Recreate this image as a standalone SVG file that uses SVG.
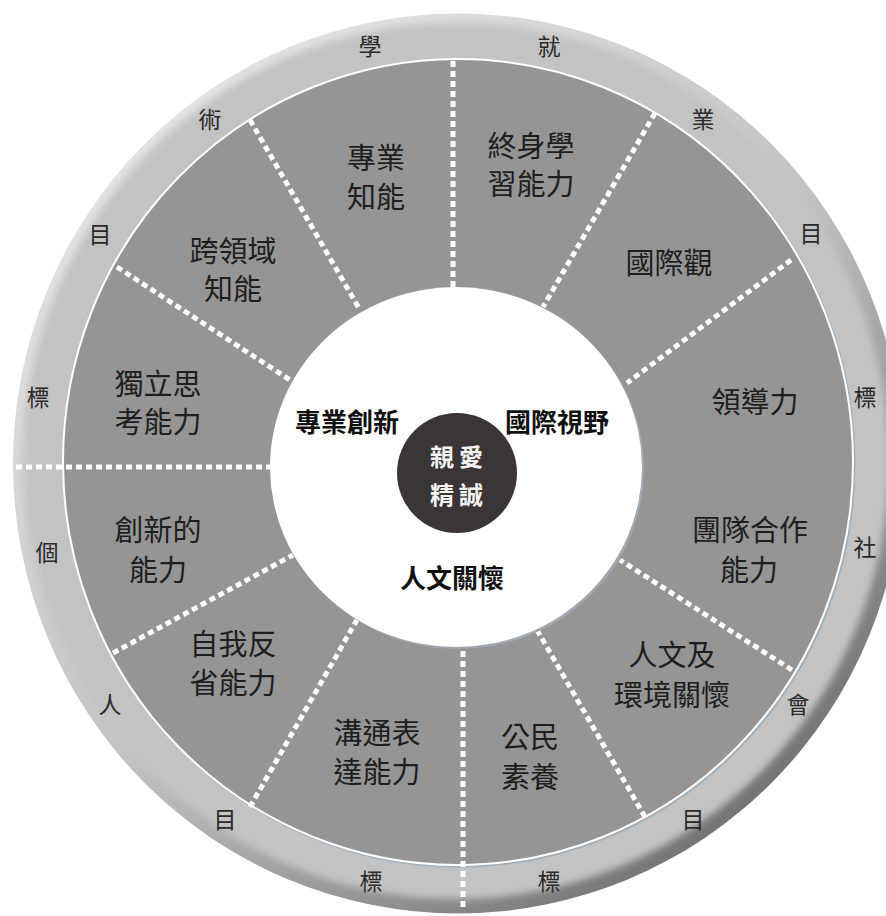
<svg xmlns="http://www.w3.org/2000/svg" width="886" height="916" viewBox="0 0 886 916">
<defs>
<linearGradient id="bevel" x1="0.15" y1="0.1" x2="0.85" y2="0.95">
<stop offset="0" stop-color="#e4e4e4"/>
<stop offset="0.5" stop-color="#c2c2c2"/>
<stop offset="1" stop-color="#6a6a6a"/>
</linearGradient>
<filter id="soft" x="-5%" y="-5%" width="110%" height="110%">
<feGaussianBlur stdDeviation="3.5"/>
</filter>
<style>
.lab{font-family:"Noto Sans CJK TC","Noto Sans CJK SC",sans-serif;font-size:29px;fill:#1e1e1e;text-anchor:middle}
.core{font-family:"Noto Sans CJK TC","Noto Sans CJK SC",sans-serif;font-size:26px;font-weight:bold;fill:#111;text-anchor:middle}
.ring{font-family:"Noto Sans CJK TC","Noto Sans CJK SC",sans-serif;font-size:23px;fill:#2a2a2a;text-anchor:middle}
.heart{font-family:"Noto Sans CJK TC","Noto Sans CJK SC",serif;font-size:24px;font-weight:bold;fill:#f4f4f4;text-anchor:middle;letter-spacing:5px}
.div{stroke:#ffffff;stroke-width:5;stroke-dasharray:6 4;fill:none}
</style>
</defs>
<rect width="886" height="916" fill="#ffffff"/>
<g id="outer-ring">
<ellipse cx="458" cy="463.5" rx="445" ry="450" fill="url(#bevel)"/>
<ellipse cx="456" cy="461" rx="433" ry="438" fill="#c3c3c3" filter="url(#soft)"/>
</g>
<g id="disc">
<ellipse cx="459.5" cy="463.5" rx="395" ry="403" fill="none" stroke="#9fb0bd" stroke-width="2"/>
<ellipse cx="458" cy="462" rx="395" ry="403" fill="#959595" stroke="#ffffff" stroke-width="2"/>
</g>
<g id="connectors">
<line class="div" x1="453" y1="61" x2="453" y2="287"/>
<line class="div" x1="250" y1="120" x2="360" y2="310"/>
<line class="div" x1="117" y1="267" x2="290" y2="380"/>
<line class="div" x1="16" y1="467" x2="270" y2="467"/>
<line class="div" x1="113" y1="653" x2="293" y2="555"/>
<line class="div" x1="250" y1="807" x2="358" y2="618"/>
<line class="div" x1="463" y1="907" x2="463" y2="647"/>
<line class="div" x1="645" y1="817" x2="537" y2="630"/>
<line class="div" x1="792" y1="670" x2="620" y2="560"/>
<line class="div" x1="791" y1="260" x2="627" y2="383"/>
<line class="div" x1="655" y1="113" x2="543" y2="307"/>
</g>
<g id="core">
<ellipse cx="458" cy="469" rx="186" ry="180" fill="#a2a8b0"/>
<ellipse cx="456" cy="467" rx="186" ry="180" fill="#ffffff"/>
<text class="core" x="347" y="432">專業創新</text>
<text class="core" x="557" y="432">國際視野</text>
<text class="core" x="452" y="588">人文關懷</text>
</g>
<g id="center">
<circle cx="457" cy="473" r="60" fill="#3b3536"/>
<text class="heart" x="459" y="466">親愛</text>
<text class="heart" x="459" y="504">精誠</text>
</g>
<g id="s-professional"><text class="lab" x="376" y="169">專業</text><text class="lab" x="376" y="208">知能</text></g>
<g id="s-lifelong"><text class="lab" x="531" y="157">終身學</text><text class="lab" x="531" y="195">習能力</text></g>
<g id="s-international"><text class="lab" x="669" y="274">國際觀</text></g>
<g id="s-leadership"><text class="lab" x="755" y="413">領導力</text></g>
<g id="s-teamwork"><text class="lab" x="750" y="541">團隊合作</text><text class="lab" x="749" y="581">能力</text></g>
<g id="s-humanity"><text class="lab" x="672" y="666">人文及</text><text class="lab" x="672" y="706">環境關懷</text></g>
<g id="s-civic"><text class="lab" x="530" y="748">公民</text><text class="lab" x="530" y="788">素養</text></g>
<g id="s-communication"><text class="lab" x="377" y="744">溝通表</text><text class="lab" x="377" y="783">達能力</text></g>
<g id="s-reflection"><text class="lab" x="233" y="655">自我反</text><text class="lab" x="233" y="694">省能力</text></g>
<g id="s-innovation"><text class="lab" x="158" y="541">創新的</text><text class="lab" x="158" y="581">能力</text></g>
<g id="s-thinking"><text class="lab" x="158" y="395">獨立思</text><text class="lab" x="158" y="433">考能力</text></g>
<g id="s-crossdomain"><text class="lab" x="233" y="262">跨領域</text><text class="lab" x="233" y="300">知能</text></g>
<g id="ring-labels">
<text class="ring" x="370" y="55">學</text>
<text class="ring" x="549" y="55">就</text>
<text class="ring" x="703" y="128">業</text>
<text class="ring" x="811" y="242">目</text>
<text class="ring" x="865" y="406">標</text>
<text class="ring" x="865" y="556">社</text>
<text class="ring" x="798" y="713">會</text>
<text class="ring" x="693" y="828">目</text>
<text class="ring" x="549" y="890">標</text>
<text class="ring" x="371" y="890">標</text>
<text class="ring" x="225" y="828">目</text>
<text class="ring" x="110" y="713">人</text>
<text class="ring" x="47" y="561">個</text>
<text class="ring" x="38" y="406">標</text>
<text class="ring" x="100" y="243">目</text>
<text class="ring" x="210" y="128">術</text>
</g>
</svg>
